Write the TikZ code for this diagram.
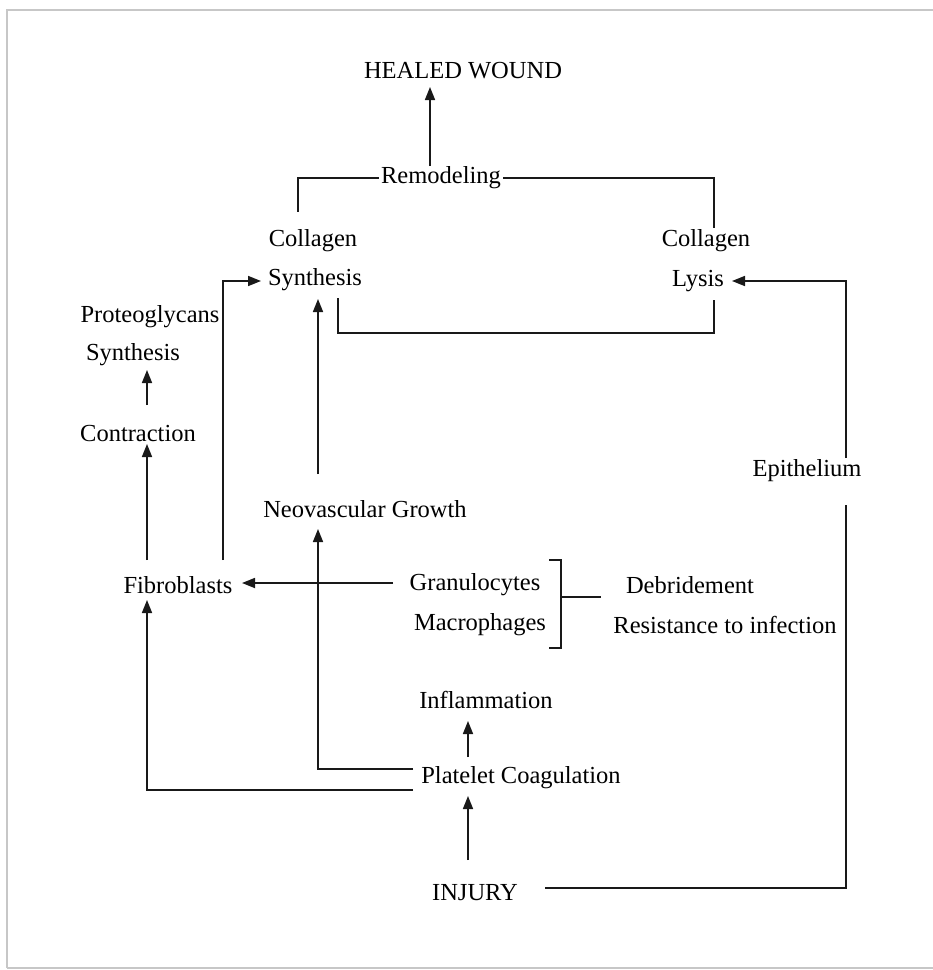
\documentclass[tikz,border=0pt]{standalone}
\usepackage{fontspec}
\setmainfont{Liberation Serif}
\usetikzlibrary{arrows.meta}
\begin{document}
\begin{tikzpicture}[x=1pt,y=-1pt,
  lbl/.style={inner sep=2pt, font=\fontsize{24.5}{27}\selectfont},
  conn/.style={line width=1.7pt, black!90},
  arr/.style={conn, -{Triangle[length=13pt,width=10pt]}},
  frame/.style={line width=2.5pt, black!22}]
\useasboundingbox (0,0) rectangle (933,970);
\draw[frame] (7,968) -- (7,10) -- (940,10);
\draw[frame] (7,968) -- (940,968);

% nodes
\node[lbl] (healed) at (463,71) {HEALED WOUND};
\node[lbl] (remod) at (441,178) {Remodeling};
\node[lbl] (cs1) at (313,241) {Collagen};
\node[lbl] (cs2) at (315,280) {Synthesis};
\node[lbl] (cl1) at (706,241) {Collagen};
\node[lbl] (cl2) at (698,281) {Lysis};
\node[lbl] (prot) at (150,317) {Proteoglycans};
\node[lbl] (psyn) at (133,355) {Synthesis};
\node[lbl] (contr) at (138,434) {Contraction};
\node[lbl] (epi) at (807,471) {Epithelium};
\node[lbl] (neo) at (365,509) {Neovascular Growth};
\node[lbl] (fib) at (178,585) {Fibroblasts};
\node[lbl] (gran) at (475,585) {Granulocytes};
\node[lbl] (macro) at (480,625) {Macrophages};
\node[lbl] (debr) at (690,585) {Debridement};
\node[lbl] (resist) at (725,625) {Resistance to infection};
\node[lbl] (infl) at (486,700) {Inflammation};
\node[lbl] (plat) at (521,778) {Platelet Coagulation};
\node[lbl] (injury) at (475,893) {INJURY};

% helper coordinates
\coordinate (rmUp) at (430,166);
\coordinate (hwIn) at (430,87);
\coordinate (rmL) at (298,212);
\coordinate (rmR) at (714,228);
\coordinate (bs1) at (338,298);
\coordinate (bs2) at (714,333);
\coordinate (bs3) at (714,300);
\coordinate (epiTop) at (846,458);
\coordinate (epiBot) at (846,505);
\coordinate (lysCorner) at (846,281);
\coordinate (lysIn) at (732,281);
\coordinate (injOut) at (545,888);
\coordinate (injCorner) at (846,888);
\coordinate (fibUp) at (223,560);
\coordinate (fibCorner) at (223,281);
\coordinate (synIn) at (261,281);
\coordinate (neoUp) at (318,474);
\coordinate (synBot) at (318,299);
\coordinate (conUp) at (147,405);
\coordinate (psynIn) at (147,370);
\coordinate (fibUp2) at (147,560);
\coordinate (conIn) at (147,444);
\coordinate (granOut) at (393,583);
\coordinate (fibIn) at (242,583);
\coordinate (brT) at (549,560);
\coordinate (brTc) at (561,560);
\coordinate (brB) at (549,648);
\coordinate (brBc) at (561,648);
\coordinate (brMc) at (561,597);
\coordinate (brM) at (601,597);
\coordinate (platA) at (413,769);
\coordinate (neoIn) at (318,529);
\coordinate (platB) at (413,790);
\coordinate (fibIn2) at (147,600);
\coordinate (platUp) at (468,757);
\coordinate (inflIn) at (468,721);
\coordinate (injUp) at (468,860);
\coordinate (platIn) at (468,796);

% connectors
\draw[arr] (rmUp) -- (hwIn);
\draw[conn] (remod.west) -| (rmL);
\draw[conn] (remod.east) -| (rmR);
\draw[conn] (bs1) |- (bs2) -- (bs3);
\draw[conn] (injOut) -- (injCorner) -- (epiBot);
\draw[arr] (epiTop) -- (lysCorner) -- (lysIn);
\draw[arr] (fibUp) -- (fibCorner) -- (synIn);
\draw[arr] (neoUp) -- (synBot);
\draw[arr] (conUp) -- (psynIn);
\draw[arr] (fibUp2) -- (conIn);
\draw[arr] (granOut) -- (fibIn);
\draw[conn] (brT) -- (brTc) -- (brBc) -- (brB);
\draw[conn] (brMc) -- (brM);
\draw[arr] (platA) -| (neoIn);
\draw[arr] (platB) -| (fibIn2);
\draw[arr] (platUp) -- (inflIn);
\draw[arr] (injUp) -- (platIn);
\end{tikzpicture}
\end{document}
